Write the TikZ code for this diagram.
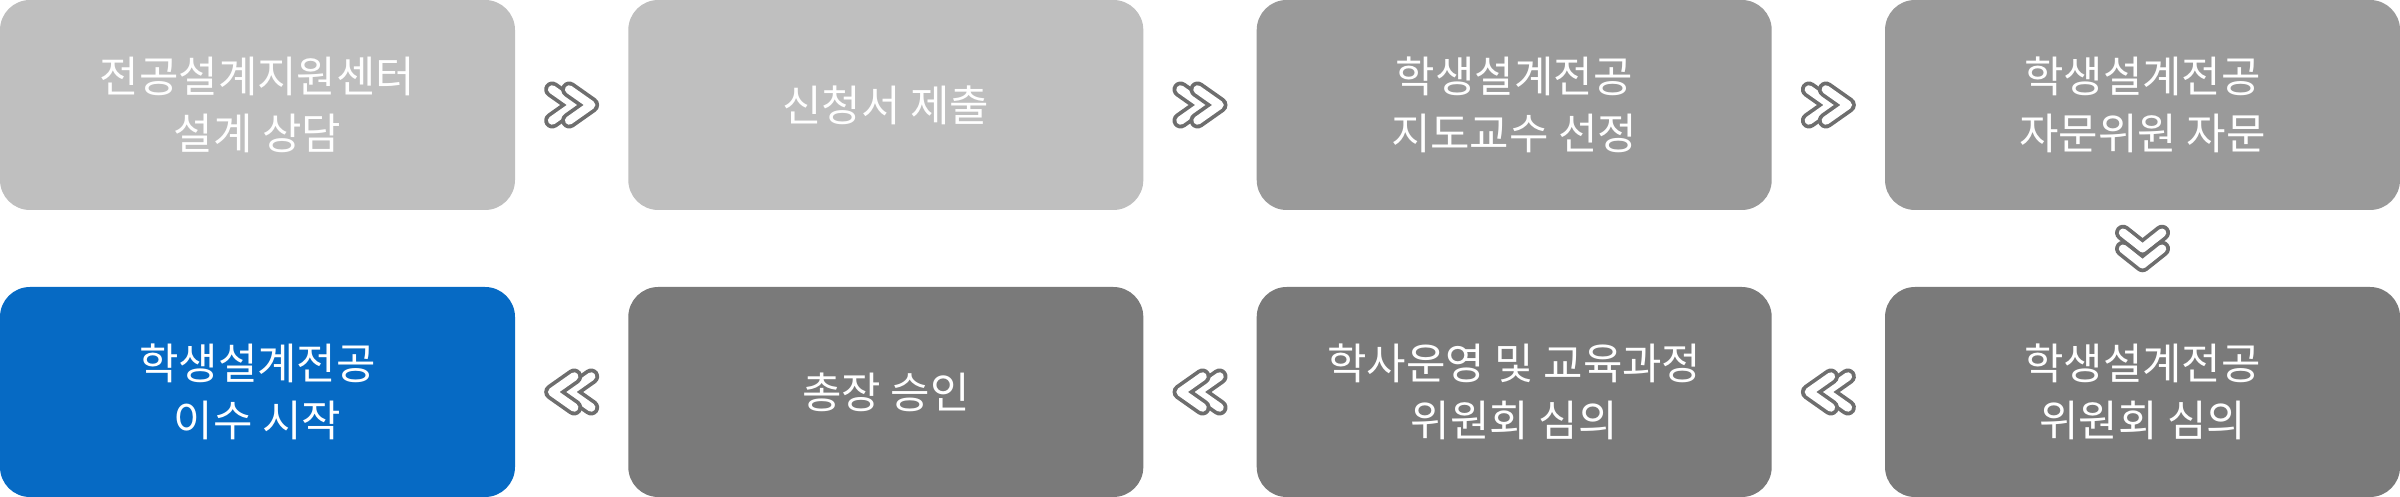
\documentclass[tikz,border=0pt]{standalone}
\usepackage{fontspec}
\setmainfont{Noto Sans CJK KR}
\usetikzlibrary{calc}

\definecolor{lightbox}{HTML}{BFBFBF}
\definecolor{midbox}{HTML}{9A9A9A}
\definecolor{darkbox}{HTML}{7A7A7A}
\definecolor{startbox}{HTML}{066AC4}
\definecolor{chevgray}{HTML}{6E6E6E}

\tikzset{
    stepbox/.style = {minimum width=5.15cm, minimum height=2.10cm, rounded corners=0.3cm,
        inner sep=0pt, align=center, text=white, font=\fontsize{12.2pt}{16.3pt}\selectfont},
    chevline/.style = {chevgray, line width=0.16cm, line cap=round, line join=round},
    chevfill/.style = {white, line width=0.085cm, line cap=round, line join=round},
    % depth, half span, half offset
    pics/chev/.style n args = {3}{code = {
        \foreach \s in {-#3,#3} {
            \draw[chevline] ({\s-#1/2},#2) -- ({\s+#1/2},0) -- ({\s-#1/2},-#2);
            \draw[chevfill] ({\s-#1/2},#2) -- ({\s+#1/2},0) -- ({\s-#1/2},-#2);
        }
    }}
}

\begin{document}
\begin{tikzpicture}
            \useasboundingbox (0,0) rectangle (24,4.97);

            % first row, left to right
            \node[stepbox, fill=lightbox] (consult) at (2.575,3.92) {전공설계지원센터\\설계 상담};
            \node[stepbox, fill=lightbox] (apply) at (8.858,3.92) {신청서 제출};
            \node[stepbox, fill=midbox] (advisor) at (15.142,3.92) {학생설계전공\\지도교수 선정};
            \node[stepbox, fill=midbox] (counsel) at (21.425,3.92) {학생설계전공\\자문위원 자문};

            % second row, right to left
            \node[stepbox, fill=darkbox] (committee) at (21.425,1.05) {학생설계전공\\위원회 심의};
            \node[stepbox, fill=darkbox] (council) at (15.142,1.05) {학사운영 및 교육과정\\위원회 심의};
            \node[stepbox, fill=darkbox] (approve) at (8.858,1.05) {총장 승인};
            \node[stepbox, fill=startbox] (start) at (2.575,1.05) {학생설계전공\\이수 시작};

            \pic at ($(consult.east)!0.5!(apply.west)$) {chev={0.22}{0.155}{0.085}};
            \pic at ($(apply.east)!0.5!(advisor.west)$) {chev={0.22}{0.155}{0.085}};
            \pic at ($(advisor.east)!0.5!(counsel.west)$) {chev={0.22}{0.155}{0.085}};
            \pic[rotate=-90] at ($(counsel.south)!0.5!(committee.north)$) {chev={0.155}{0.195}{0.08}};
            \pic[rotate=180] at ($(committee.west)!0.5!(council.east)$) {chev={0.22}{0.155}{0.085}};
            \pic[rotate=180] at ($(council.west)!0.5!(approve.east)$) {chev={0.22}{0.155}{0.085}};
            \pic[rotate=180] at ($(approve.west)!0.5!(start.east)$) {chev={0.22}{0.155}{0.085}};
\end{tikzpicture}
\end{document}
